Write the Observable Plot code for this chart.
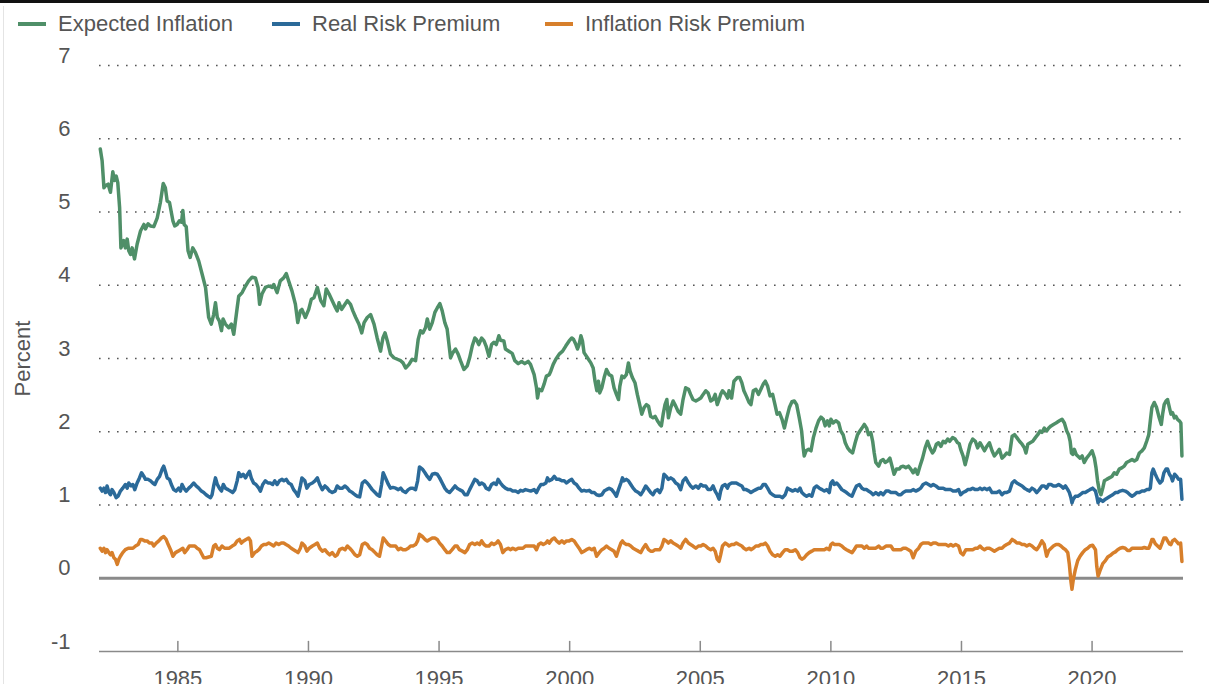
<!DOCTYPE html>
<html><head><meta charset="utf-8">
<script src="https://cdn.jsdelivr.net/npm/d3@7"></script>
<script src="https://cdn.jsdelivr.net/npm/@observablehq/plot@0.6"></script>
<style>
body{margin:0;background:#fff;font-family:"Liberation Sans",Arial,sans-serif;}
#wrap{position:relative;width:1209px;height:684px;overflow:hidden;background:#fff;}
#topbar{position:absolute;left:0;top:0;width:1209px;height:3px;background:#111;}
#edge{position:absolute;left:3px;top:6px;width:1px;height:678px;background:#e4e4e4;}
#legend{position:absolute;left:0;top:0;width:1209px;height:48px;}
.item{position:absolute;top:10px;height:28px;display:flex;align-items:center;font-size:22px;color:#555;white-space:nowrap;}
.sw{width:28px;height:4px;margin-right:12px;}
#chart{position:absolute;left:0;top:48px;}
#chart svg{overflow:visible;}
</style></head><body>
<div id="wrap"><div id="legend"></div><div id="chart"></div><div id="edge"></div><div id="topbar"></div></div>
<script>
const seriesNames = ["Expected Inflation", "Real Risk Premium", "Inflation Risk Premium"];
const seriesColors = ["#4f8f68", "#2b6a99", "#d77f2b"];
const xTicks = [1985, 1990, 1995, 2000, 2005, 2010, 2015, 2020];
const yTicks = [-1, 0, 1, 2, 3, 4, 5, 6, 7];

const expectedInflation = [
[1982.03,5.86],[1982.10,5.70],[1982.17,5.33],[1982.23,5.36],[1982.33,5.38],[1982.42,5.27],[1982.51,5.55],[1982.57,5.43],[1982.64,5.49],[1982.70,5.40],[1982.77,5.06],[1982.82,4.51],[1982.93,4.61],[1982.99,4.51],[1983.06,4.63],[1983.12,4.47],[1983.19,4.42],[1983.25,4.51],[1983.34,4.36],[1983.44,4.56],[1983.57,4.74],[1983.70,4.83],[1983.76,4.77],[1983.86,4.84],[1983.95,4.81],[1984.08,4.80],[1984.21,4.92],[1984.33,5.13],[1984.44,5.39],[1984.52,5.33],[1984.59,5.15],[1984.68,5.13],[1984.81,4.88],[1984.88,4.81],[1984.97,4.83],[1985.06,4.88],[1985.14,4.86],[1985.19,5.02],[1985.24,4.83],[1985.32,4.80],[1985.39,4.47],[1985.47,4.38],[1985.57,4.51],[1985.67,4.45],[1985.80,4.33],[1985.93,4.15],[1986.06,3.97],[1986.18,3.56],[1986.28,3.47],[1986.37,3.60],[1986.44,3.76],[1986.51,3.56],[1986.59,3.51],[1986.67,3.38],[1986.73,3.54],[1986.82,3.47],[1986.95,3.42],[1987.05,3.47],[1987.14,3.33],[1987.27,3.69],[1987.33,3.85],[1987.46,3.90],[1987.56,3.97],[1987.71,4.06],[1987.84,4.11],[1987.97,4.10],[1988.07,3.97],[1988.13,3.74],[1988.22,3.88],[1988.35,3.97],[1988.48,3.99],[1988.61,3.97],[1988.67,4.01],[1988.80,3.90],[1988.92,4.06],[1989.05,4.10],[1989.15,4.16],[1989.24,4.06],[1989.37,3.92],[1989.50,3.74],[1989.59,3.49],[1989.69,3.65],[1989.75,3.67],[1989.88,3.56],[1990.01,3.67],[1990.11,3.81],
[1990.21,3.83],[1990.34,3.97],[1990.47,3.79],[1990.59,3.72],[1990.68,3.95],[1990.79,3.88],[1990.91,3.79],[1991.04,3.69],[1991.10,3.65],[1991.17,3.76],[1991.27,3.67],[1991.36,3.72],[1991.49,3.79],[1991.61,3.74],[1991.70,3.65],[1991.81,3.56],[1991.93,3.47],[1992.04,3.35],[1992.13,3.49],[1992.25,3.56],[1992.38,3.60],[1992.51,3.47],[1992.63,3.28],[1992.76,3.10],[1992.85,3.28],[1992.93,3.35],[1993.02,3.24],[1993.14,3.06],[1993.27,3.01],[1993.40,2.99],[1993.53,2.97],[1993.62,2.94],[1993.72,2.87],[1993.85,2.92],[1993.97,2.99],[1994.10,2.97],[1994.20,3.26],[1994.29,3.38],[1994.38,3.35],[1994.48,3.42],[1994.55,3.54],[1994.64,3.40],[1994.74,3.49],[1994.84,3.63],[1994.93,3.69],[1995.03,3.75],[1995.12,3.65],[1995.22,3.49],[1995.31,3.40],[1995.38,3.19],[1995.44,3.01],[1995.53,3.08],[1995.63,3.13],[1995.73,3.06],[1995.82,2.97],[1995.95,2.85],[1996.08,2.90],[1996.17,3.01],[1996.27,3.17],[1996.37,3.28],[1996.43,3.26],[1996.52,3.19],[1996.63,3.28],[1996.72,3.24],[1996.80,3.17],[1996.91,3.03],[1997.01,3.19],[1997.10,3.22],[1997.19,3.19],[1997.29,3.31],[1997.35,3.25],[1997.48,3.24],[1997.54,3.13],[1997.67,3.10],[1997.80,3.07],[1997.90,2.97],[1998.03,2.93],[1998.16,2.96],[1998.28,2.93],[1998.41,2.96],[1998.50,2.92],
[1998.64,2.78],[1998.73,2.60],[1998.77,2.46],[1998.83,2.58],[1998.93,2.56],[1999.02,2.65],[1999.11,2.76],[1999.22,2.78],[1999.28,2.83],[1999.37,2.92],[1999.47,2.99],[1999.60,3.06],[1999.73,3.10],[1999.85,3.17],[1999.98,3.24],[2000.08,3.28],[2000.15,3.26],[2000.24,3.19],[2000.30,3.13],[2000.36,3.19],[2000.43,3.31],[2000.49,3.24],[2000.55,3.08],[2000.68,3.01],[2000.81,2.94],[2000.90,2.87],[2000.97,2.69],[2001.04,2.56],[2001.10,2.69],[2001.15,2.53],[2001.23,2.60],[2001.32,2.74],[2001.41,2.85],[2001.51,2.78],[2001.61,2.76],[2001.70,2.60],[2001.79,2.51],[2001.87,2.44],[2001.92,2.62],[2002.00,2.76],[2002.08,2.74],[2002.17,2.78],[2002.25,2.94],[2002.31,2.83],[2002.40,2.74],[2002.50,2.67],[2002.59,2.51],[2002.68,2.37],[2002.76,2.24],[2002.85,2.33],[2002.94,2.37],[2003.02,2.35],[2003.10,2.21],[2003.19,2.19],[2003.27,2.21],[2003.36,2.15],[2003.45,2.10],[2003.51,2.08],[2003.58,2.24],[2003.65,2.37],[2003.72,2.44],[2003.78,2.19],[2003.87,2.33],[2003.96,2.42],[2004.06,2.35],[2004.15,2.28],[2004.25,2.24],[2004.34,2.44],[2004.44,2.60],[2004.55,2.58],[2004.63,2.51],[2004.72,2.44],[2004.83,2.42],[2004.93,2.44],[2005.02,2.46],[2005.11,2.51],[2005.21,2.56],[2005.30,2.53],[2005.40,2.42],[2005.49,2.44],[2005.57,2.51],[2005.65,2.37],[2005.72,2.44],[2005.78,2.51],[2005.85,2.56],[2005.97,2.51],[2006.05,2.46],[2006.10,2.56],[2006.20,2.46],[2006.29,2.69],[2006.42,2.74],[2006.51,2.74],[2006.59,2.67],[2006.67,2.56],[2006.76,2.49],[2006.87,2.40],[2006.94,2.37],
[2007.03,2.56],[2007.13,2.58],[2007.23,2.51],[2007.32,2.58],[2007.41,2.65],[2007.49,2.69],[2007.58,2.62],[2007.67,2.49],[2007.77,2.51],[2007.86,2.37],[2007.94,2.24],[2008.03,2.26],[2008.13,2.17],[2008.22,2.05],[2008.31,2.19],[2008.41,2.33],[2008.51,2.41],[2008.60,2.42],[2008.69,2.37],[2008.79,2.19],[2008.88,2.01],[2008.94,1.78],[2008.98,1.67],[2009.05,1.74],[2009.15,1.76],[2009.24,1.74],[2009.33,1.92],[2009.43,2.05],[2009.53,2.15],[2009.62,2.20],[2009.71,2.17],[2009.78,2.08],[2009.87,2.15],[2009.94,2.08],[2010.00,2.17],[2010.09,2.12],[2010.19,2.15],[2010.30,2.12],[2010.38,2.01],[2010.47,1.96],[2010.55,1.85],[2010.64,1.78],[2010.73,1.74],[2010.83,1.71],[2010.93,1.85],[2011.02,1.96],[2011.11,2.01],[2011.19,2.05],[2011.28,2.10],[2011.37,2.05],[2011.44,1.96],[2011.53,1.99],[2011.60,1.87],[2011.66,1.71],[2011.72,1.58],[2011.83,1.53],[2011.91,1.60],[2012.00,1.62],[2012.08,1.58],[2012.17,1.60],[2012.26,1.64],[2012.34,1.53],[2012.42,1.42],[2012.51,1.49],[2012.62,1.49],[2012.68,1.52],[2012.77,1.53],[2012.87,1.51],[2012.97,1.53],[2013.06,1.49],[2013.15,1.44],[2013.23,1.49],[2013.32,1.42],[2013.41,1.53],[2013.51,1.64],[2013.61,1.78],[2013.70,1.87],[2013.79,1.78],[2013.89,1.71],[2013.95,1.74],[2014.04,1.83],[2014.12,1.85],[2014.21,1.80],[2014.30,1.87],[2014.38,1.85],[2014.47,1.90],[2014.55,1.87],[2014.66,1.92],[2014.76,1.90],[2014.85,1.85],[2014.91,1.84],[2014.97,1.76],[2015.06,1.67],[2015.14,1.55],[2015.24,1.69],
[2015.33,1.83],[2015.43,1.90],[2015.53,1.87],[2015.62,1.78],[2015.71,1.85],[2015.79,1.80],[2015.88,1.74],[2015.97,1.80],[2016.07,1.85],[2016.17,1.74],[2016.26,1.67],[2016.35,1.71],[2016.45,1.76],[2016.55,1.64],[2016.64,1.67],[2016.73,1.71],[2016.84,1.69],[2016.94,1.94],[2017.03,1.96],[2017.12,1.92],[2017.22,1.87],[2017.32,1.83],[2017.41,1.78],[2017.47,1.71],[2017.54,1.83],[2017.63,1.85],[2017.73,1.87],[2017.83,1.92],[2017.92,1.96],[2018.01,2.01],[2018.08,1.99],[2018.17,2.05],[2018.26,2.01],[2018.34,2.05],[2018.43,2.08],[2018.52,2.10],[2018.62,2.12],[2018.75,2.15],[2018.85,2.17],[2018.94,2.12],[2019.03,2.01],[2019.10,1.96],[2019.16,1.87],[2019.21,1.71],[2019.26,1.69],[2019.32,1.76],[2019.39,1.69],[2019.45,1.67],[2019.54,1.64],[2019.62,1.67],[2019.70,1.58],[2019.79,1.64],[2019.90,1.69],[2020.00,1.74],[2020.09,1.64],[2020.15,1.51],[2020.21,1.33],[2020.28,1.19],[2020.34,1.14],[2020.41,1.23],[2020.47,1.33],[2020.56,1.35],[2020.66,1.37],[2020.76,1.39],[2020.85,1.44],[2020.94,1.42],[2021.04,1.49],[2021.15,1.51],[2021.23,1.53],[2021.32,1.58],[2021.43,1.60],[2021.53,1.62],[2021.62,1.60],[2021.71,1.62],[2021.81,1.71],[2021.91,1.74],[2022.00,1.78],[2022.09,1.87],[2022.17,1.96],[2022.23,2.15],[2022.29,2.33],[2022.38,2.40],[2022.47,2.33],[2022.57,2.19],[2022.65,2.10],[2022.70,2.24],[2022.76,2.37],[2022.83,2.42],[2022.89,2.44],[2022.96,2.33],[2023.02,2.24],[2023.08,2.26],[2023.15,2.19],[2023.21,2.21],[2023.27,2.17],[2023.34,2.15],[2023.40,2.12],[2023.44,1.67]
];

const realRiskPremium = [
[1982.03,1.23],[1982.10,1.19],[1982.17,1.23],[1982.23,1.17],[1982.29,1.26],[1982.36,1.17],[1982.42,1.14],[1982.48,1.21],[1982.55,1.17],[1982.64,1.10],[1982.71,1.12],[1982.80,1.19],[1982.89,1.23],[1982.99,1.28],[1983.06,1.23],[1983.12,1.30],[1983.21,1.26],[1983.28,1.28],[1983.35,1.21],[1983.44,1.30],[1983.53,1.37],[1983.61,1.44],[1983.70,1.39],[1983.76,1.35],[1983.86,1.35],[1983.95,1.33],[1984.04,1.30],[1984.12,1.28],[1984.21,1.35],[1984.30,1.39],[1984.40,1.49],[1984.46,1.53],[1984.52,1.46],[1984.59,1.37],[1984.68,1.35],[1984.75,1.28],[1984.84,1.21],[1984.93,1.19],[1985.03,1.23],[1985.10,1.19],[1985.16,1.28],[1985.23,1.23],[1985.32,1.19],[1985.42,1.23],[1985.51,1.26],[1985.61,1.30],[1985.70,1.26],[1985.80,1.23],[1985.90,1.19],[1985.99,1.17],[1986.08,1.14],[1986.16,1.12],[1986.25,1.10],[1986.31,1.14],[1986.37,1.26],[1986.44,1.37],[1986.51,1.28],[1986.59,1.23],[1986.67,1.19],[1986.74,1.28],[1986.82,1.23],[1986.92,1.21],[1987.01,1.19],[1987.10,1.17],[1987.18,1.21],[1987.27,1.33],[1987.33,1.44],[1987.42,1.39],[1987.50,1.42],[1987.59,1.37],[1987.67,1.42],[1987.74,1.46],[1987.81,1.37],[1987.90,1.30],[1987.99,1.28],[1988.10,1.23],[1988.16,1.19],[1988.25,1.28],[1988.35,1.33],[1988.45,1.30],[1988.54,1.30],[1988.63,1.28],[1988.71,1.33],[1988.80,1.28],[1988.89,1.33],[1988.99,1.35],[1989.06,1.33],[1989.15,1.35],[1989.24,1.30],[1989.34,1.28],[1989.43,1.21],[1989.52,1.17],[1989.60,1.12],[1989.69,1.26],[1989.75,1.37],[1989.86,1.33],[1989.94,1.23],[1990.03,1.28],
[1990.15,1.30],[1990.25,1.33],[1990.34,1.37],[1990.43,1.28],[1990.53,1.21],[1990.63,1.26],[1990.72,1.23],[1990.81,1.19],[1990.91,1.17],[1991.02,1.19],[1991.10,1.26],[1991.19,1.23],[1991.30,1.23],[1991.40,1.26],[1991.49,1.23],[1991.58,1.19],[1991.68,1.17],[1991.78,1.14],[1991.87,1.12],[1991.96,1.11],[1992.06,1.30],[1992.16,1.33],[1992.25,1.30],[1992.34,1.26],[1992.44,1.21],[1992.55,1.17],[1992.63,1.14],[1992.72,1.12],[1992.80,1.28],[1992.86,1.44],[1992.95,1.37],[1993.06,1.28],[1993.14,1.23],[1993.23,1.24],[1993.34,1.23],[1993.44,1.21],[1993.53,1.23],[1993.62,1.19],[1993.72,1.17],[1993.82,1.21],[1993.91,1.23],[1994.00,1.23],[1994.10,1.21],[1994.18,1.33],[1994.25,1.52],[1994.36,1.49],[1994.46,1.44],[1994.55,1.39],[1994.64,1.35],[1994.74,1.42],[1994.84,1.43],[1994.93,1.42],[1995.02,1.37],[1995.12,1.30],[1995.22,1.23],[1995.31,1.19],[1995.40,1.17],[1995.50,1.21],[1995.61,1.26],[1995.69,1.23],[1995.78,1.21],[1995.89,1.19],[1995.99,1.14],[1996.08,1.14],[1996.17,1.21],[1996.27,1.28],[1996.37,1.35],[1996.46,1.33],[1996.55,1.28],[1996.63,1.30],[1996.72,1.28],[1996.80,1.23],[1996.91,1.21],[1997.01,1.28],[1997.10,1.30],[1997.19,1.28],[1997.26,1.35],[1997.35,1.30],[1997.44,1.26],[1997.54,1.23],[1997.65,1.21],[1997.74,1.21],[1997.82,1.19],[1997.93,1.19],[1998.03,1.17],[1998.12,1.20],[1998.21,1.19],[1998.31,1.21],[1998.41,1.20],[1998.51,1.19],
[1998.64,1.21],[1998.73,1.17],[1998.81,1.23],[1998.90,1.28],[1998.99,1.28],[1999.09,1.30],[1999.15,1.37],[1999.22,1.33],[1999.32,1.35],[1999.41,1.39],[1999.50,1.35],[1999.60,1.35],[1999.70,1.33],[1999.79,1.33],[1999.88,1.30],[1999.98,1.33],[2000.08,1.35],[2000.17,1.30],[2000.26,1.28],[2000.36,1.23],[2000.46,1.19],[2000.55,1.20],[2000.64,1.19],[2000.75,1.20],[2000.85,1.17],[2000.94,1.17],[2001.03,1.14],[2001.13,1.13],[2001.23,1.14],[2001.32,1.19],[2001.41,1.21],[2001.51,1.23],[2001.61,1.21],[2001.70,1.17],[2001.79,1.12],[2001.87,1.21],[2001.96,1.30],[2002.02,1.37],[2002.08,1.33],[2002.17,1.35],[2002.25,1.33],[2002.34,1.28],[2002.43,1.23],[2002.53,1.19],[2002.63,1.17],[2002.72,1.14],[2002.81,1.19],[2002.91,1.26],[2003.02,1.21],[2003.10,1.17],[2003.19,1.14],[2003.27,1.19],[2003.36,1.21],[2003.45,1.17],[2003.53,1.23],[2003.61,1.42],[2003.70,1.39],[2003.78,1.35],[2003.87,1.37],[2003.96,1.35],[2004.06,1.30],[2004.15,1.28],[2004.25,1.21],[2004.34,1.33],[2004.44,1.37],[2004.55,1.30],[2004.63,1.26],[2004.72,1.23],[2004.83,1.26],[2004.93,1.23],[2005.02,1.28],[2005.11,1.26],[2005.21,1.26],[2005.30,1.21],[2005.40,1.21],[2005.49,1.26],[2005.57,1.19],[2005.65,1.14],[2005.72,1.08],[2005.78,1.19],[2005.85,1.26],[2005.95,1.28],[2006.04,1.23],[2006.10,1.28],[2006.20,1.30],[2006.29,1.30],[2006.38,1.30],[2006.48,1.28],[2006.59,1.26],[2006.67,1.21],[2006.76,1.21],[2006.87,1.19],[2006.94,1.17],
[2007.03,1.19],[2007.13,1.21],[2007.23,1.23],[2007.32,1.23],[2007.41,1.28],[2007.49,1.28],[2007.58,1.23],[2007.67,1.17],[2007.77,1.14],[2007.87,1.12],[2007.96,1.12],[2008.05,1.12],[2008.15,1.10],[2008.25,1.14],[2008.34,1.23],[2008.43,1.21],[2008.54,1.19],[2008.64,1.21],[2008.73,1.19],[2008.82,1.23],[2008.89,1.17],[2008.98,1.14],[2009.07,1.12],[2009.17,1.14],[2009.27,1.12],[2009.36,1.23],[2009.45,1.26],[2009.56,1.23],[2009.66,1.21],[2009.75,1.19],[2009.84,1.21],[2009.94,1.17],[2010.00,1.30],[2010.07,1.33],[2010.13,1.28],[2010.22,1.30],[2010.32,1.26],[2010.42,1.21],[2010.51,1.19],[2010.60,1.17],[2010.70,1.14],[2010.81,1.12],[2010.89,1.19],[2010.98,1.26],[2011.09,1.28],[2011.19,1.23],[2011.28,1.21],[2011.37,1.21],[2011.44,1.19],[2011.53,1.17],[2011.62,1.14],[2011.72,1.17],[2011.83,1.14],[2011.91,1.17],[2012.00,1.14],[2012.11,1.19],[2012.21,1.19],[2012.30,1.17],[2012.39,1.17],[2012.49,1.17],[2012.59,1.14],[2012.68,1.14],[2012.77,1.17],[2012.87,1.19],[2012.97,1.19],[2013.06,1.19],[2013.15,1.21],[2013.25,1.19],[2013.36,1.21],[2013.44,1.23],[2013.53,1.28],[2013.64,1.30],[2013.74,1.28],[2013.83,1.26],[2013.92,1.28],[2014.02,1.26],[2014.12,1.23],[2014.21,1.23],[2014.30,1.23],[2014.40,1.21],[2014.50,1.21],[2014.59,1.21],[2014.68,1.19],[2014.78,1.19],[2014.89,1.21],[2014.97,1.14],[2015.06,1.17],[2015.17,1.19],[2015.24,1.21],
[2015.33,1.21],[2015.43,1.23],[2015.53,1.21],[2015.62,1.21],[2015.71,1.23],[2015.79,1.21],[2015.88,1.23],[2015.97,1.21],[2016.07,1.23],[2016.17,1.17],[2016.26,1.17],[2016.35,1.17],[2016.45,1.19],[2016.55,1.14],[2016.64,1.17],[2016.73,1.17],[2016.84,1.19],[2016.94,1.30],[2017.03,1.33],[2017.12,1.30],[2017.22,1.28],[2017.32,1.26],[2017.41,1.23],[2017.50,1.21],[2017.60,1.19],[2017.70,1.23],[2017.79,1.21],[2017.88,1.17],[2017.98,1.21],[2018.08,1.26],[2018.17,1.26],[2018.26,1.23],[2018.34,1.28],[2018.43,1.28],[2018.52,1.26],[2018.62,1.26],[2018.72,1.28],[2018.81,1.26],[2018.90,1.23],[2018.98,1.26],[2019.07,1.21],[2019.13,1.17],[2019.19,1.10],[2019.23,1.03],[2019.28,1.08],[2019.36,1.12],[2019.45,1.12],[2019.54,1.14],[2019.64,1.17],[2019.74,1.17],[2019.83,1.19],[2019.92,1.21],[2020.02,1.23],[2020.13,1.19],[2020.18,1.12],[2020.23,1.03],[2020.30,1.08],[2020.41,1.05],[2020.51,1.08],[2020.60,1.10],[2020.69,1.12],[2020.79,1.14],[2020.89,1.17],[2020.98,1.17],[2021.07,1.19],[2021.17,1.20],[2021.27,1.19],[2021.36,1.17],[2021.45,1.14],[2021.53,1.12],[2021.62,1.14],[2021.71,1.17],[2021.81,1.17],[2021.91,1.19],[2022.00,1.19],[2022.09,1.21],[2022.17,1.21],[2022.23,1.23],[2022.29,1.44],[2022.34,1.49],[2022.42,1.42],[2022.51,1.35],[2022.60,1.30],[2022.68,1.33],[2022.75,1.44],[2022.83,1.49],[2022.89,1.49],[2022.96,1.42],[2023.02,1.39],[2023.08,1.33],[2023.16,1.42],[2023.24,1.39],[2023.31,1.35],[2023.39,1.35],[2023.44,1.08]
];

const inflationRiskPremium = [
[1982.03,0.41],[1982.10,0.37],[1982.17,0.41],[1982.23,0.35],[1982.29,0.39],[1982.36,0.35],[1982.42,0.32],[1982.48,0.35],[1982.55,0.28],[1982.61,0.26],[1982.68,0.19],[1982.74,0.26],[1982.80,0.30],[1982.89,0.35],[1982.99,0.39],[1983.10,0.41],[1983.19,0.41],[1983.28,0.41],[1983.38,0.44],[1983.48,0.46],[1983.57,0.53],[1983.63,0.53],[1983.73,0.51],[1983.82,0.51],[1983.91,0.48],[1984.01,0.48],[1984.08,0.44],[1984.17,0.48],[1984.27,0.51],[1984.37,0.55],[1984.46,0.57],[1984.55,0.53],[1984.63,0.46],[1984.72,0.39],[1984.81,0.30],[1984.91,0.35],[1985.01,0.37],[1985.10,0.39],[1985.19,0.41],[1985.26,0.35],[1985.35,0.39],[1985.44,0.44],[1985.54,0.44],[1985.65,0.44],[1985.74,0.41],[1985.83,0.39],[1985.93,0.32],[1985.99,0.28],[1986.08,0.28],[1986.18,0.29],[1986.28,0.30],[1986.37,0.44],[1986.44,0.46],[1986.51,0.41],[1986.59,0.39],[1986.69,0.44],[1986.79,0.41],[1986.88,0.41],[1986.97,0.41],[1987.08,0.44],[1987.18,0.46],[1987.27,0.51],[1987.36,0.53],[1987.43,0.48],[1987.52,0.51],[1987.61,0.53],[1987.71,0.55],[1987.78,0.51],[1987.84,0.30],[1987.94,0.35],[1988.03,0.37],[1988.10,0.39],[1988.20,0.44],[1988.29,0.46],[1988.38,0.46],[1988.48,0.48],[1988.58,0.46],[1988.67,0.44],[1988.76,0.48],[1988.86,0.46],[1988.96,0.48],[1989.05,0.48],[1989.14,0.46],[1989.24,0.44],[1989.34,0.41],[1989.43,0.39],[1989.52,0.37],[1989.60,0.35],[1989.69,0.41],[1989.75,0.48],[1989.86,0.44],[1989.94,0.37],[1990.03,0.41],
[1990.15,0.44],[1990.25,0.46],[1990.34,0.48],[1990.43,0.41],[1990.53,0.37],[1990.63,0.39],[1990.72,0.35],[1990.81,0.32],[1990.91,0.35],[1991.02,0.30],[1991.10,0.32],[1991.19,0.39],[1991.30,0.41],[1991.40,0.39],[1991.49,0.44],[1991.58,0.41],[1991.68,0.37],[1991.78,0.32],[1991.87,0.30],[1991.96,0.32],[1992.06,0.46],[1992.16,0.48],[1992.25,0.46],[1992.34,0.41],[1992.44,0.39],[1992.55,0.35],[1992.63,0.32],[1992.72,0.30],[1992.80,0.44],[1992.86,0.55],[1992.95,0.51],[1993.06,0.46],[1993.14,0.44],[1993.23,0.44],[1993.34,0.44],[1993.44,0.39],[1993.53,0.41],[1993.62,0.39],[1993.72,0.39],[1993.82,0.41],[1993.91,0.44],[1994.00,0.44],[1994.10,0.46],[1994.18,0.51],[1994.25,0.60],[1994.36,0.57],[1994.46,0.53],[1994.55,0.51],[1994.64,0.53],[1994.74,0.55],[1994.84,0.55],[1994.93,0.53],[1995.02,0.48],[1995.12,0.44],[1995.22,0.39],[1995.31,0.35],[1995.40,0.35],[1995.50,0.39],[1995.61,0.44],[1995.69,0.44],[1995.78,0.39],[1995.89,0.37],[1995.99,0.35],[1996.08,0.39],[1996.17,0.46],[1996.27,0.48],[1996.37,0.46],[1996.46,0.48],[1996.55,0.46],[1996.63,0.51],[1996.72,0.46],[1996.80,0.44],[1996.91,0.44],[1997.01,0.48],[1997.10,0.46],[1997.19,0.48],[1997.26,0.51],[1997.35,0.46],[1997.44,0.35],[1997.54,0.39],[1997.65,0.41],[1997.74,0.39],[1997.82,0.41],[1997.93,0.39],[1998.03,0.41],[1998.12,0.41],[1998.21,0.41],[1998.31,0.44],[1998.41,0.44],[1998.51,0.44],
[1998.64,0.44],[1998.73,0.39],[1998.81,0.46],[1998.90,0.48],[1998.99,0.46],[1999.09,0.48],[1999.15,0.51],[1999.22,0.48],[1999.32,0.53],[1999.41,0.55],[1999.50,0.51],[1999.60,0.48],[1999.70,0.51],[1999.79,0.48],[1999.88,0.51],[1999.98,0.51],[2000.08,0.53],[2000.17,0.51],[2000.26,0.46],[2000.36,0.41],[2000.46,0.35],[2000.55,0.37],[2000.64,0.39],[2000.75,0.41],[2000.85,0.39],[2000.94,0.41],[2001.03,0.30],[2001.13,0.35],[2001.23,0.39],[2001.32,0.41],[2001.41,0.44],[2001.51,0.41],[2001.61,0.39],[2001.70,0.37],[2001.79,0.30],[2001.87,0.39],[2001.96,0.48],[2002.02,0.51],[2002.08,0.48],[2002.17,0.46],[2002.25,0.46],[2002.34,0.44],[2002.43,0.41],[2002.53,0.39],[2002.63,0.37],[2002.72,0.35],[2002.81,0.41],[2002.91,0.46],[2003.02,0.39],[2003.10,0.37],[2003.19,0.37],[2003.27,0.39],[2003.36,0.39],[2003.45,0.39],[2003.53,0.44],[2003.61,0.53],[2003.70,0.51],[2003.78,0.48],[2003.87,0.51],[2003.96,0.48],[2004.06,0.46],[2004.15,0.44],[2004.25,0.41],[2004.34,0.48],[2004.44,0.53],[2004.55,0.48],[2004.63,0.46],[2004.72,0.44],[2004.83,0.41],[2004.93,0.44],[2005.02,0.44],[2005.11,0.46],[2005.21,0.44],[2005.30,0.41],[2005.40,0.39],[2005.49,0.41],[2005.57,0.37],[2005.65,0.26],[2005.72,0.23],[2005.78,0.32],[2005.85,0.44],[2005.95,0.48],[2006.04,0.46],[2006.10,0.44],[2006.20,0.46],[2006.29,0.46],[2006.38,0.48],[2006.48,0.46],[2006.59,0.44],[2006.67,0.41],[2006.76,0.39],[2006.87,0.41],[2006.94,0.39],
[2007.03,0.41],[2007.13,0.44],[2007.23,0.44],[2007.32,0.46],[2007.41,0.46],[2007.49,0.48],[2007.58,0.44],[2007.67,0.37],[2007.77,0.32],[2007.87,0.30],[2007.96,0.32],[2008.05,0.30],[2008.15,0.35],[2008.25,0.39],[2008.34,0.39],[2008.43,0.37],[2008.54,0.37],[2008.64,0.39],[2008.73,0.35],[2008.82,0.28],[2008.89,0.26],[2008.98,0.28],[2009.07,0.32],[2009.17,0.35],[2009.27,0.37],[2009.36,0.39],[2009.45,0.39],[2009.56,0.39],[2009.66,0.39],[2009.75,0.39],[2009.84,0.41],[2009.94,0.39],[2010.00,0.46],[2010.07,0.48],[2010.13,0.46],[2010.22,0.46],[2010.32,0.46],[2010.42,0.44],[2010.51,0.41],[2010.60,0.39],[2010.70,0.37],[2010.81,0.35],[2010.89,0.39],[2010.98,0.44],[2011.09,0.44],[2011.19,0.44],[2011.28,0.41],[2011.37,0.44],[2011.44,0.41],[2011.53,0.41],[2011.62,0.41],[2011.72,0.41],[2011.83,0.44],[2011.91,0.41],[2012.00,0.41],[2012.11,0.44],[2012.21,0.44],[2012.30,0.44],[2012.39,0.39],[2012.49,0.39],[2012.59,0.39],[2012.68,0.39],[2012.77,0.41],[2012.87,0.41],[2012.97,0.39],[2013.06,0.37],[2013.15,0.28],[2013.25,0.37],[2013.36,0.41],[2013.44,0.46],[2013.53,0.48],[2013.64,0.48],[2013.74,0.48],[2013.83,0.46],[2013.92,0.48],[2014.02,0.48],[2014.12,0.46],[2014.21,0.46],[2014.30,0.46],[2014.40,0.46],[2014.50,0.44],[2014.59,0.46],[2014.68,0.44],[2014.78,0.46],[2014.89,0.44],[2014.97,0.35],[2015.06,0.32],[2015.17,0.39],[2015.24,0.39],
[2015.33,0.39],[2015.43,0.39],[2015.53,0.41],[2015.62,0.41],[2015.71,0.44],[2015.79,0.41],[2015.88,0.39],[2015.97,0.41],[2016.07,0.41],[2016.17,0.39],[2016.26,0.37],[2016.35,0.39],[2016.45,0.41],[2016.55,0.41],[2016.64,0.44],[2016.73,0.46],[2016.84,0.48],[2016.94,0.53],[2017.03,0.51],[2017.12,0.48],[2017.22,0.48],[2017.32,0.46],[2017.41,0.46],[2017.50,0.44],[2017.60,0.46],[2017.70,0.44],[2017.79,0.41],[2017.88,0.39],[2017.98,0.44],[2018.08,0.51],[2018.17,0.46],[2018.26,0.30],[2018.34,0.38],[2018.43,0.41],[2018.52,0.44],[2018.62,0.46],[2018.72,0.46],[2018.81,0.44],[2018.90,0.41],[2018.98,0.39],[2019.07,0.35],[2019.13,0.19],[2019.19,-0.04],[2019.23,-0.15],[2019.28,-0.02],[2019.36,0.12],[2019.45,0.24],[2019.54,0.30],[2019.64,0.35],[2019.74,0.39],[2019.83,0.41],[2019.92,0.44],[2020.02,0.45],[2020.13,0.39],[2020.18,0.16],[2020.23,0.03],[2020.30,0.10],[2020.41,0.20],[2020.51,0.24],[2020.60,0.29],[2020.69,0.31],[2020.79,0.34],[2020.89,0.36],[2020.98,0.39],[2021.07,0.41],[2021.17,0.42],[2021.27,0.41],[2021.36,0.38],[2021.45,0.38],[2021.53,0.41],[2021.62,0.41],[2021.71,0.41],[2021.81,0.41],[2021.91,0.41],[2022.00,0.42],[2022.09,0.41],[2022.17,0.41],[2022.23,0.46],[2022.29,0.53],[2022.34,0.53],[2022.42,0.47],[2022.51,0.44],[2022.60,0.41],[2022.68,0.48],[2022.75,0.55],[2022.83,0.55],[2022.89,0.51],[2022.96,0.47],[2023.02,0.46],[2023.08,0.51],[2023.16,0.53],[2023.24,0.50],[2023.31,0.47],[2023.39,0.48],[2023.44,0.23]
];

const seriesData = [expectedInflation, realRiskPremium, inflationRiskPremium];

// legend
const legendLeft = [18, 272, 545];
const legend = document.getElementById("legend");
seriesNames.forEach((name, i) => {
  const item = document.createElement("div");
  item.className = "item";
  item.style.left = legendLeft[i] + "px";
  const sw = document.createElement("span");
  sw.className = "sw";
  sw.style.background = seriesColors[i];
  const label = document.createElement("span");
  label.textContent = name;
  item.appendChild(sw);
  item.appendChild(label);
  legend.appendChild(item);
});

const tickUp = {draw(context, l) { context.moveTo(0, 0); context.lineTo(0, -l); }};
const font = '"Liberation Sans", Arial, sans-serif';

const lineMarks = [2, 1, 0].map(i =>
  Plot.line(seriesData[i], {x: d => d[0], y: d => d[1], stroke: seriesColors[i], strokeWidth: 3.5, strokeLinejoin: "round"})
);

const chart = Plot.plot({
  width: 1209,
  height: 636,
  marginTop: 17,
  marginBottom: 33,
  marginLeft: 99,
  marginRight: 26,
  style: {fontFamily: font, fontSize: "22px", color: "#555", background: "white", overflow: "visible"},
  x: {domain: [1982, 2023.5]},
  y: {domain: [-1, 7]},
  marks: [
    Plot.ruleY(yTicks.filter(v => v > 0), {stroke: "#555", strokeWidth: 1.6, strokeDasharray: "1.6 7.4"}),
    Plot.ruleY(yTicks.filter(v => v === -1), {stroke: "#8a8a8a", strokeWidth: 1.5}),
    Plot.vector(xTicks, {x: d => d, y: () => yTicks[0], length: 10, anchor: "start", shape: tickUp, stroke: "#8a8a8a", strokeWidth: 1.5}),
    Plot.axisY({ticks: yTicks, tickSize: 0, tickPadding: 29, dy: -10, tickFormat: d => String(d), fontSize: 22, fill: "#555", label: null}),
    Plot.axisX({ticks: xTicks, tickSize: 0, tickPadding: 19, tickFormat: d => String(d), fontSize: 22, fill: "#555", label: null}),
    Plot.text(["Percent"], {text: d => d, frameAnchor: "left", dx: -77, rotate: -90, textAnchor: "middle", fontSize: 22, fill: "#555"}),
    Plot.ruleY(yTicks.filter(v => v === 0), {stroke: "#8a8a8a", strokeWidth: 3}),
    ...lineMarks
  ]
});
document.getElementById("chart").appendChild(chart);
</script>
</body></html>
